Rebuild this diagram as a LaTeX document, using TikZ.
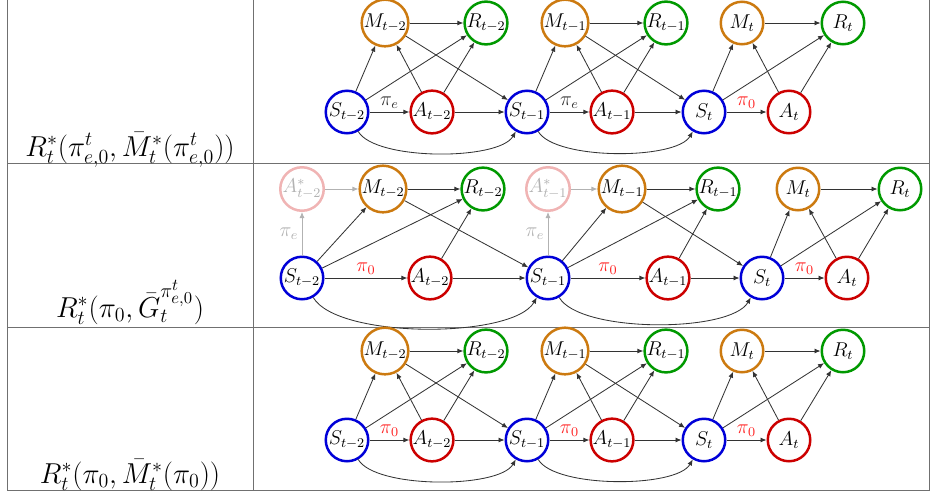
\documentclass[tikz,border=0pt]{standalone}
\usepackage{tikz}
\usetikzlibrary{arrows.meta, positioning}
\definecolor{stblue}{HTML}{0000D8}
\definecolor{acred}{HTML}{CC0000}
\definecolor{medorange}{HTML}{CC7A10}
\definecolor{rwgreen}{HTML}{009900}
\definecolor{ghostred}{HTML}{F0B4B4}
\definecolor{polred}{HTML}{FF2020}
\definecolor{rulegray}{HTML}{707070}

\begin{document}
\begin{tikzpicture}[
  x=0.6pt, y=-0.6pt, on grid,
  var/.style={circle, line width=1.5pt, minimum size=25.5pt, inner sep=0pt, fill=white, font=\large},
  svar/.style={var, draw=stblue},
  avar/.style={var, draw=acred},
  mvar/.style={var, draw=medorange},
  rvar/.style={var, draw=rwgreen},
  gvar/.style={var, draw=ghostred, text=black!30},
  arr/.style={-{Latex[length=3.6pt,width=3pt]}, line width=0.5pt, black!80},
  garr/.style={-{Latex[length=3.6pt,width=3pt]}, line width=0.5pt, black!30},
  lag/.style={arr, out=-60, in=-120, looseness=0.55},
  pol/.style={midway, font=\large, inner sep=2pt},
  rowlab/.style={anchor=base, font=\LARGE},
]
\useasboundingbox (0,0) rectangle (930,493);

% Tabla
\draw[rulegray, line width=0.6pt] (7,0) -- (7,490) -- (929,490) -- (929,0);
\draw[rulegray, line width=0.6pt] (253,0) -- (253,490);
\draw[rulegray, line width=0.6pt] (7,163) -- (929,163);
\draw[rulegray, line width=0.6pt] (7,327) -- (929,327);

% Etiquetas de fila
\node[rowlab] (laba) at (130,156) {$R^*_t(\pi^t_{e,0}, \bar{M}^*_t(\pi^t_{e,0}))$};
\node[rowlab] (labb) at (130,317) {$R^*_t(\pi_0, \bar{G}_t^{\pi^t_{e,0}})$};
\node[rowlab] (labc) at (130,483) {$R^*_t(\pi_0, \bar{M}^*_t(\pi_0))$};

% Fila 1
\node[svar] (aS2) at (347,112) {$S_{t-2}$};
\node[avar, right=51pt of aS2] (aA2) {$A_{t-2}$};
\node[mvar, above right=53.4pt and 22.8pt of aS2] (aM2) {$M_{t-2}$};
\node[rvar, above right=53.4pt and 83.4pt of aS2] (aR2) {$R_{t-2}$};
\node[svar] (aS1) at (527,112) {$S_{t-1}$};
\node[avar, right=51pt of aS1] (aA1) {$A_{t-1}$};
\node[mvar, above right=53.4pt and 22.8pt of aS1] (aM1) {$M_{t-1}$};
\node[rvar, above right=53.4pt and 83.4pt of aS1] (aR1) {$R_{t-1}$};
\node[svar] (aS0) at (704,112) {$S_t$};
\node[avar, right=51pt of aS0] (aA0) {$A_t$};
\node[mvar, above right=53.4pt and 22.8pt of aS0] (aM0) {$M_t$};
\node[rvar, above right=53.4pt and 83.4pt of aS0] (aR0) {$R_t$};

\draw[arr] (aS2) -- (aA2) node[pol, above]{$\pi_e$};
\draw[arr] (aS2) -- (aM2);
\draw[arr] (aS2) -- (aR2);
\draw[arr] (aA2) -- (aM2);
\draw[arr] (aA2) -- (aR2);
\draw[arr] (aM2) -- (aR2);
\draw[arr] (aM2) -- (aS1);
\draw[arr] (aA2) -- (aS1);
\draw[lag] (aS2) to (aS1);
\draw[arr] (aS1) -- (aA1) node[pol, above]{$\pi_e$};
\draw[arr] (aS1) -- (aM1);
\draw[arr] (aS1) -- (aR1);
\draw[arr] (aA1) -- (aM1);
\draw[arr] (aA1) -- (aR1);
\draw[arr] (aM1) -- (aR1);
\draw[arr] (aM1) -- (aS0);
\draw[arr] (aA1) -- (aS0);
\draw[lag] (aS1) to (aS0);
\draw[arr] (aS0) -- (aA0) node[pol, above, polred]{$\pi_0$};
\draw[arr] (aS0) -- (aM0);
\draw[arr] (aS0) -- (aR0);
\draw[arr] (aA0) -- (aM0);
\draw[arr] (aA0) -- (aR0);
\draw[arr] (aM0) -- (aR0);

% Fila 2
\node[svar] (bS2) at (302,278) {$S_{t-2}$};
\node[gvar, above=53.4pt of bS2] (bX2) {$A^*_{t-2}$};
\node[avar, right=76.8pt of bS2] (bA2) {$A_{t-2}$};
\node[mvar, above right=53.4pt and 48.6pt of bS2] (bM2) {$M_{t-2}$};
\node[rvar, above right=53.4pt and 108.6pt of bS2] (bR2) {$R_{t-2}$};
\node[svar] (bS1) at (548,278) {$S_{t-1}$};
\node[gvar, above=53.4pt of bS1] (bX1) {$A^*_{t-1}$};
\node[avar, right=72pt of bS1] (bA1) {$A_{t-1}$};
\node[mvar, above right=53.4pt and 44.4pt of bS1] (bM1) {$M_{t-1}$};
\node[rvar, above right=53.4pt and 102pt of bS1] (bR1) {$R_{t-1}$};
\node[svar] (bS0) at (762,278) {$S_t$};
\node[avar, right=51pt of bS0] (bA0) {$A_t$};
\node[mvar, above right=53.4pt and 21.6pt of bS0] (bM0) {$M_t$};
\node[rvar, above right=53.4pt and 82.8pt of bS0] (bR0) {$R_t$};

\draw[garr] (bS2) -- (bX2) node[pol, left, black!30]{$\pi_e$};
\draw[garr] (bX2) -- (bM2);
\draw[arr] (bS2) -- (bA2) node[pol, above, polred]{$\pi_0$};
\draw[arr] (bS2) -- (bM2);
\draw[arr] (bS2) -- (bR2);
\draw[arr] (bA2) -- (bR2);
\draw[arr] (bM2) -- (bR2);
\draw[arr] (bM2) -- (bS1);
\draw[arr] (bA2) -- (bS1);
\draw[lag] (bS2) to (bS1);
\draw[garr] (bS1) -- (bX1) node[pol, left, black!30]{$\pi_e$};
\draw[garr] (bX1) -- (bM1);
\draw[arr] (bS1) -- (bA1) node[pol, above, polred]{$\pi_0$};
\draw[arr] (bS1) -- (bM1);
\draw[arr] (bS1) -- (bR1);
\draw[arr] (bA1) -- (bR1);
\draw[arr] (bM1) -- (bR1);
\draw[arr] (bM1) -- (bS0);
\draw[arr] (bA1) -- (bS0);
\draw[lag] (bS1) to (bS0);
\draw[arr] (bS0) -- (bA0) node[pol, above, polred]{$\pi_0$};
\draw[arr] (bS0) -- (bM0);
\draw[arr] (bS0) -- (bR0);
\draw[arr] (bA0) -- (bM0);
\draw[arr] (bA0) -- (bR0);
\draw[arr] (bM0) -- (bR0);

% Fila 3
\node[svar] (cS2) at (347,440) {$S_{t-2}$};
\node[avar, right=51pt of cS2] (cA2) {$A_{t-2}$};
\node[mvar, above right=53.4pt and 22.8pt of cS2] (cM2) {$M_{t-2}$};
\node[rvar, above right=53.4pt and 83.4pt of cS2] (cR2) {$R_{t-2}$};
\node[svar] (cS1) at (527,440) {$S_{t-1}$};
\node[avar, right=51pt of cS1] (cA1) {$A_{t-1}$};
\node[mvar, above right=53.4pt and 22.8pt of cS1] (cM1) {$M_{t-1}$};
\node[rvar, above right=53.4pt and 83.4pt of cS1] (cR1) {$R_{t-1}$};
\node[svar] (cS0) at (704,440) {$S_t$};
\node[avar, right=51pt of cS0] (cA0) {$A_t$};
\node[mvar, above right=53.4pt and 22.8pt of cS0] (cM0) {$M_t$};
\node[rvar, above right=53.4pt and 83.4pt of cS0] (cR0) {$R_t$};

\draw[arr] (cS2) -- (cA2) node[pol, above, polred]{$\pi_0$};
\draw[arr] (cS2) -- (cM2);
\draw[arr] (cS2) -- (cR2);
\draw[arr] (cA2) -- (cM2);
\draw[arr] (cA2) -- (cR2);
\draw[arr] (cM2) -- (cR2);
\draw[arr] (cM2) -- (cS1);
\draw[arr] (cA2) -- (cS1);
\draw[lag] (cS2) to (cS1);
\draw[arr] (cS1) -- (cA1) node[pol, above, polred]{$\pi_0$};
\draw[arr] (cS1) -- (cM1);
\draw[arr] (cS1) -- (cR1);
\draw[arr] (cA1) -- (cM1);
\draw[arr] (cA1) -- (cR1);
\draw[arr] (cM1) -- (cR1);
\draw[arr] (cM1) -- (cS0);
\draw[arr] (cA1) -- (cS0);
\draw[lag] (cS1) to (cS0);
\draw[arr] (cS0) -- (cA0) node[pol, above, polred]{$\pi_0$};
\draw[arr] (cS0) -- (cM0);
\draw[arr] (cS0) -- (cR0);
\draw[arr] (cA0) -- (cM0);
\draw[arr] (cA0) -- (cR0);
\draw[arr] (cM0) -- (cR0);

\end{tikzpicture}
\end{document}
